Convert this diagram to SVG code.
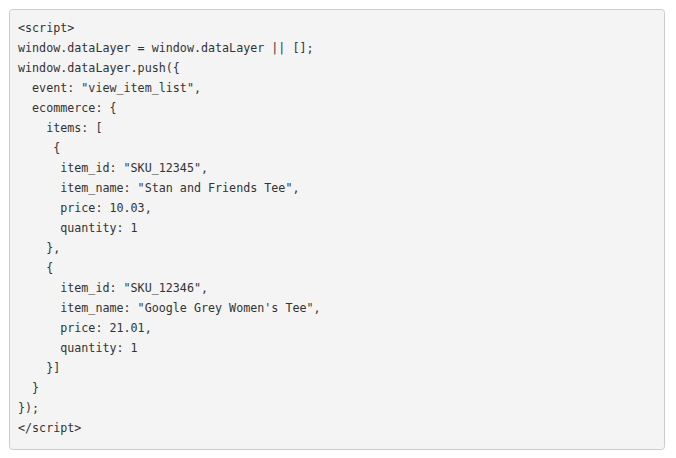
<svg xmlns="http://www.w3.org/2000/svg" width="676" height="458" viewBox="0 0 676 458">
<style>
.code{font-family:"DejaVu Sans Mono","Liberation Mono",monospace;font-size:11.7px;fill:#333333;white-space:pre}
</style>
<rect width="676" height="458" fill="#ffffff"/>
<g id="codeblock">
<rect x="9.5" y="9.5" width="655" height="440" rx="3" ry="3" fill="#f4f4f4" stroke="#cccccc" stroke-width="1"/>
<text class="code" xml:space="preserve" x="18">
<tspan x="18" y="32">&lt;script&gt;</tspan>
<tspan x="18" y="52">window.dataLayer = window.dataLayer || [];</tspan>
<tspan x="18" y="72">window.dataLayer.push({</tspan>
<tspan x="18" y="92">  event: "view_item_list",</tspan>
<tspan x="18" y="112">  ecommerce: {</tspan>
<tspan x="18" y="132">    items: [</tspan>
<tspan x="18" y="152">     {</tspan>
<tspan x="18" y="172">      item_id: "SKU_12345",</tspan>
<tspan x="18" y="192">      item_name: "Stan and Friends Tee",</tspan>
<tspan x="18" y="212">      price: 10.03,</tspan>
<tspan x="18" y="232">      quantity: 1</tspan>
<tspan x="18" y="252">    },</tspan>
<tspan x="18" y="272">    {</tspan>
<tspan x="18" y="292">      item_id: "SKU_12346",</tspan>
<tspan x="18" y="312">      item_name: "Google Grey Women's Tee",</tspan>
<tspan x="18" y="332">      price: 21.01,</tspan>
<tspan x="18" y="352">      quantity: 1</tspan>
<tspan x="18" y="372">    }]</tspan>
<tspan x="18" y="392">  }</tspan>
<tspan x="18" y="412">});</tspan>
<tspan x="18" y="432">&lt;/script&gt;</tspan>
</text>
</g>
</svg>
